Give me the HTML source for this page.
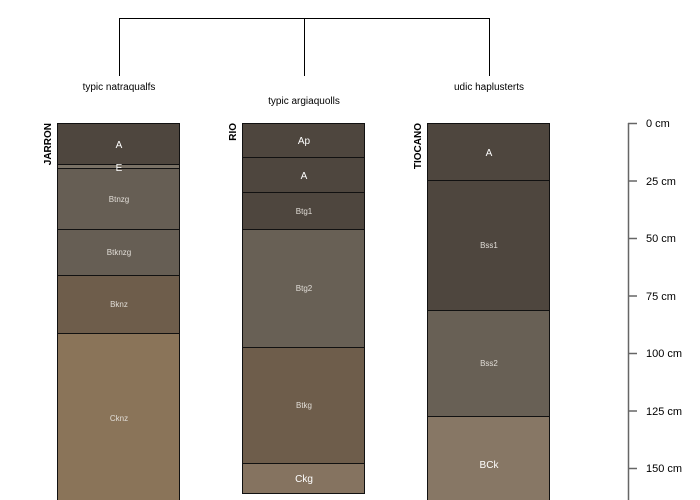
<!DOCTYPE html>
<html><head><meta charset="utf-8"><style>
html,body{margin:0;padding:0;background:#fff;width:700px;height:500px;overflow:hidden}
svg text{font-family:"Liberation Sans",sans-serif}
</style></head><body>
<svg width="700" height="500" viewBox="0 0 700 500" xmlns="http://www.w3.org/2000/svg">
<g stroke="#000" stroke-width="1" fill="none">
<path d="M119.5 76V18.5H489.5V76M304.5 18.5V76"/>
</g>
<g font-size="10" fill="#000" text-anchor="middle">
<text x="119" y="90">typic natraqualfs</text>
<text x="304" y="104">typic argiaquolls</text>
<text x="489" y="90">udic haplusterts</text>
</g>
<g stroke="#111" stroke-width="1">
<!-- JARRON -->
<rect x="57.5" y="123.5" width="122" height="41" fill="#4e463e"/>
<rect x="57.5" y="164.5" width="122" height="4" fill="#7a7266"/>
<rect x="57.5" y="168.5" width="122" height="61" fill="#665e54"/>
<rect x="57.5" y="229.5" width="122" height="46" fill="#665e54"/>
<rect x="57.5" y="275.5" width="122" height="58" fill="#6e5d4b"/>
<rect x="57.5" y="333.5" width="122" height="170" fill="#8a7459"/>
<!-- RIO -->
<rect x="242.5" y="123.5" width="122" height="34" fill="#4e463e"/>
<rect x="242.5" y="157.5" width="122" height="35" fill="#4e463e"/>
<rect x="242.5" y="192.5" width="122" height="37" fill="#4e463e"/>
<rect x="242.5" y="229.5" width="122" height="118" fill="#686055"/>
<rect x="242.5" y="347.5" width="122" height="116" fill="#6e5d4b"/>
<rect x="242.5" y="463.5" width="122" height="30" fill="#857360"/>
<!-- TIOCANO -->
<rect x="427.5" y="123.5" width="122" height="57" fill="#4e463e"/>
<rect x="427.5" y="180.5" width="122" height="130" fill="#4e463e"/>
<rect x="427.5" y="310.5" width="122" height="106" fill="#686055"/>
<rect x="427.5" y="416.5" width="122" height="90" fill="#877765"/>
</g>
<g fill="#fff" text-anchor="middle" font-size="10">
<text x="119" y="148">A</text>
<text x="119" y="171">E</text>
<text x="304" y="144">Ap</text>
<text x="304" y="179">A</text>
<text x="489" y="156">A</text>
<text x="489" y="468">BCk</text>
<text x="304" y="482">Ckg</text>
</g>
<g fill="#e0dcd6" text-anchor="middle" font-size="8">
<text x="119" y="202">Btnzg</text>
<text x="119" y="255">Btknzg</text>
<text x="119" y="307">Bknz</text>
<text x="119" y="421">Cknz</text>
<text x="304" y="214">Btg1</text>
<text x="304" y="291">Btg2</text>
<text x="304" y="408">Btkg</text>
<text x="489" y="248">Bss1</text>
<text x="489" y="366">Bss2</text>
</g>
<g font-size="10" font-weight="bold" fill="#000">
<text transform="translate(51,123) rotate(-90)" text-anchor="end">JARRON</text>
<text transform="translate(236,123) rotate(-90)" text-anchor="end">RIO</text>
<text transform="translate(421,123) rotate(-90)" text-anchor="end">TIOCANO</text>
</g>
<g stroke="#666" stroke-width="1.5">
<line x1="628.5" y1="123" x2="628.5" y2="500"/>
<line x1="628" y1="123.5" x2="637" y2="123.5"/>
<line x1="628" y1="181" x2="637" y2="181"/>
<line x1="628" y1="238.5" x2="637" y2="238.5"/>
<line x1="628" y1="296" x2="637" y2="296"/>
<line x1="628" y1="353.5" x2="637" y2="353.5"/>
<line x1="628" y1="411" x2="637" y2="411"/>
<line x1="628" y1="468.5" x2="637" y2="468.5"/>
</g>
<g font-size="11" fill="#000">
<text x="646" y="127">0 cm</text>
<text x="646" y="185">25 cm</text>
<text x="646" y="242">50 cm</text>
<text x="646" y="300">75 cm</text>
<text x="646" y="357">100 cm</text>
<text x="646" y="415">125 cm</text>
<text x="646" y="472">150 cm</text>
</g>
</svg>
</body></html>
